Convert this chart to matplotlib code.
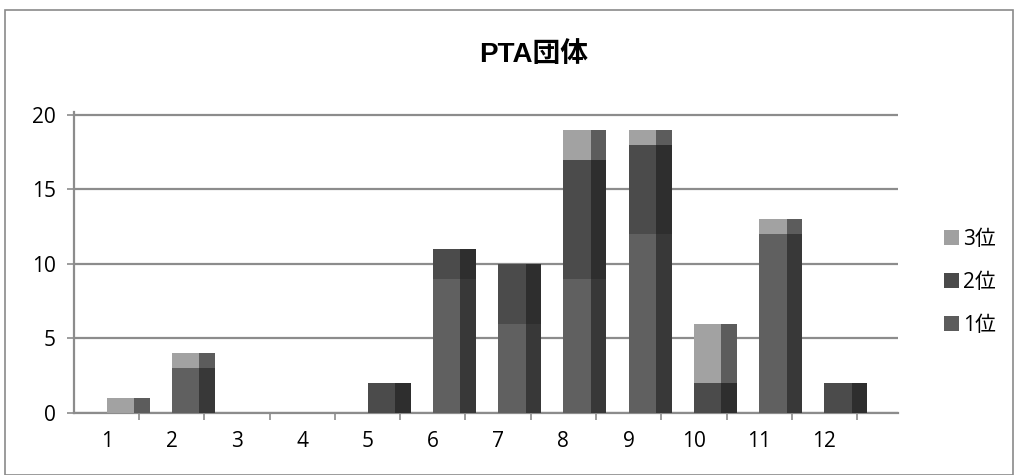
import matplotlib.pyplot as plt
from matplotlib.patches import Rectangle, Patch

# 値は画像から読み取り
categories = list(range(1, 13))
rank1 = [0, 3, 0, 0, 0, 9, 6, 9, 12, 0, 12, 0]
rank2 = [0, 0, 0, 0, 2, 2, 4, 8, 6, 2, 0, 2]
rank3 = [1, 1, 0, 0, 0, 0, 0, 2, 1, 4, 1, 0]
series_labels = ["1位", "2位", "3位"]
title = "PTA団体"

FRONT = ["#606060", "#4b4b4b", "#a2a2a2"]
SIDE = ["#383838", "#2e2e2e", "#5c5c5c"]
LEGEND = ["#5c5c5c", "#4a4a4a", "#a0a0a0"]

LABEL_FONT = ["Open Sans", "Noto Sans CJK JP"]
TITLE_FONT = ["Liberation Sans", "Noto Sans CJK JP"]

fig = plt.figure(figsize=(10.16, 4.75), dpi=100)
fig.patches.append(Rectangle((0.005, 0.0), 0.992, 0.978, transform=fig.transFigure,
                             fill=False, edgecolor="#8a8a8a", linewidth=1.2))

ax = fig.add_axes([0.0728, 0.1305, 0.8112, 0.634])

bottom = [0] * len(categories)
for values, front, side in zip([rank1, rank2, rank3], FRONT, SIDE):
    ax.bar(categories, values, width=0.42, bottom=bottom, align="edge",
           color=front, linewidth=0, zorder=3)
    ax.bar([c + 0.42 for c in categories], values, width=0.24, bottom=bottom,
           align="edge", color=side, linewidth=0, zorder=3)
    bottom = [b + v for b, v in zip(bottom, values)]

ax.set_xlim(0.5, 13.13)
ax.set_ylim(0, 20.2)
ax.set_yticks([0, 5, 10, 15, 20])
ax.yaxis.grid(True, color="#8c8c8c", linewidth=1.6, zorder=1)
ax.set_axisbelow(True)

ax.set_xticks(categories)
ax.set_xticklabels([str(c) for c in categories], family=LABEL_FONT, fontsize=15)
ax.set_xticks([c + 0.5 for c in categories], minor=True)
ax.tick_params(axis="x", which="major", length=0, pad=13)
ax.tick_params(axis="x", which="minor", length=5, width=1.2, color="#8c8c8c",
               direction="out")
ax.tick_params(axis="y", length=5, width=1.2, color="#8c8c8c", pad=8)
for lbl in ax.get_yticklabels():
    lbl.set_family(LABEL_FONT)
    lbl.set_fontsize(15)

for side in ["top", "right"]:
    ax.spines[side].set_visible(False)
ax.spines["left"].set_color("#8c8c8c")
ax.spines["left"].set_linewidth(1.6)
ax.spines["bottom"].set_color("#8c8c8c")
ax.spines["bottom"].set_linewidth(1.6)

fig.text(0.525, 0.885, title, ha="center", va="center", fontsize=20,
         fontweight="bold", family=TITLE_FONT)

handles = [Patch(facecolor=LEGEND[i], label=series_labels[i]) for i in [2, 1, 0]]
fig.legend(handles=handles, loc="center left", bbox_to_anchor=(0.929, 0.406),
           frameon=False, handlelength=0.75, handleheight=0.75, handletextpad=0.15,
           labelspacing=1.05, borderpad=0, borderaxespad=0,
           prop={"family": LABEL_FONT, "size": 15})

fig.savefig("out.png", dpi=100)
